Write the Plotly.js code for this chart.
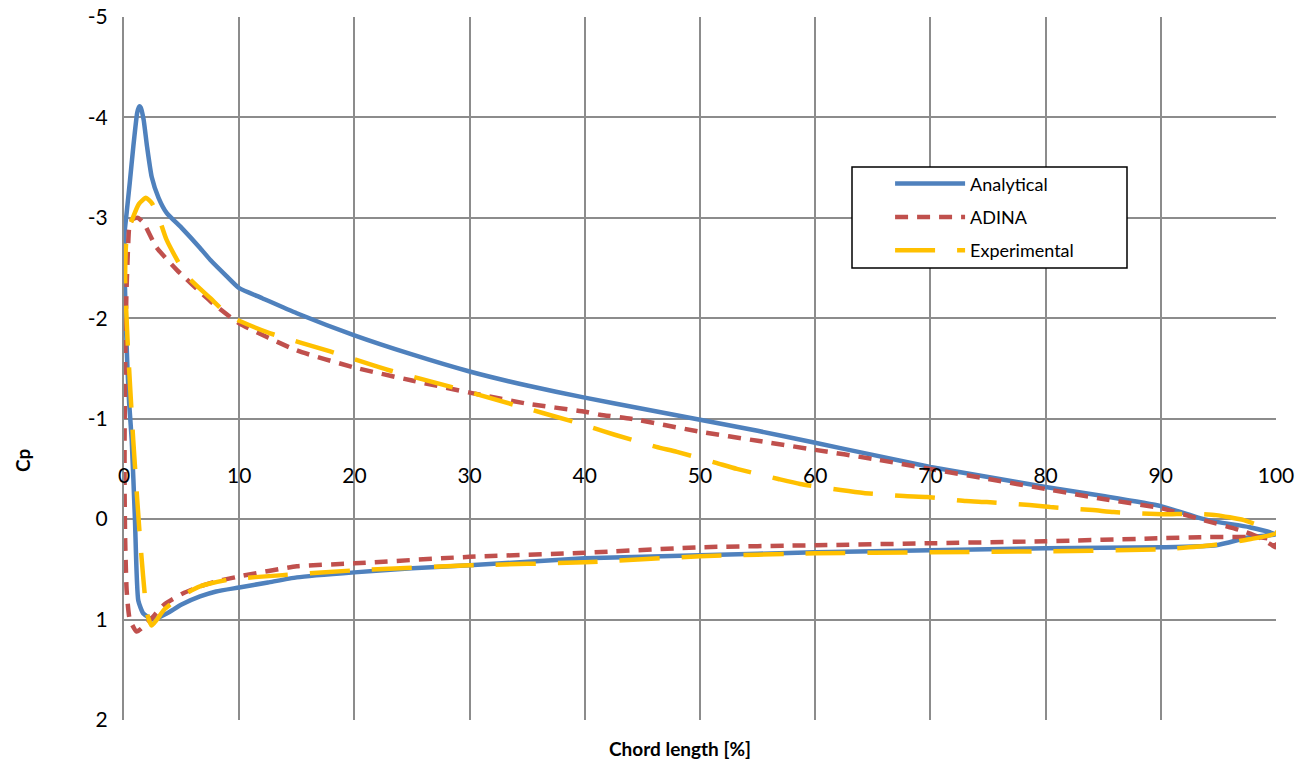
<!DOCTYPE html>
<html>
<head>
<meta charset="utf-8">
<script src="https://cdn.plot.ly/plotly-3.0.1.min.js"></script>
<style>html,body{margin:0;padding:0;background:#fff;}#chart{width:1312px;height:770px;}</style>
</head>
<body>
<div id="chart"></div>
<script>
// Analytical: upper surface (TE -> LE), around nose, lower surface (LE -> TE)
const analyticalX = [100, 97.7, 95, 93.4, 90, 85, 80, 75, 70, 65, 60, 55, 50, 45, 40, 35, 30, 25, 20, 15, 12, 10, 8.9, 7.5, 6.6, 5, 3.7, 3, 2.4, 2, 1.7, 1.45, 1.33, 1.15, 0.81, 0.5, 0.23, 0.05,
  0.05, 0.15, 0.3, 0.45, 0.67, 0.95, 1.24, 1.68, 2.55, 3.7, 5, 6.6, 8, 10, 12.5, 15, 20, 25, 30, 40, 50, 60, 70, 80, 90, 94.8, 97.7, 100];
const analyticalCp = [0.15, 0.08, 0.03, -0.01, -0.13, -0.23, -0.32, -0.42, -0.52, -0.64, -0.76, -0.88, -0.99, -1.1, -1.21, -1.33, -1.47, -1.64, -1.83, -2.05, -2.2, -2.3, -2.42, -2.58, -2.7, -2.9, -3.05, -3.2, -3.41, -3.71, -3.98, -4.1, -4.11, -4.05, -3.71, -3.35, -3.05, -2.85,
  -2.5, -2.0, -1.5, -1.15, -0.79, 0.0, 0.81, 0.94, 1.0, 0.94, 0.85, 0.77, 0.72, 0.68, 0.63, 0.58, 0.53, 0.49, 0.46, 0.39, 0.36, 0.33, 0.31, 0.29, 0.28, 0.26, 0.18, 0.15];

// ADINA
const adinaX = [100, 98.5, 96.9, 93.4, 90, 85, 80, 75, 70, 65, 60, 55, 50, 44, 41.3, 40, 35, 30, 25, 20, 15, 10, 7.5, 4.6, 2.8, 1.7, 1.2, 0.8, 0.5, 0.35, 0.2, 0.1, 0.05,
  0.05, 0.1, 0.23, 0.5, 1.1, 1.6, 2.3, 3.5, 5.1, 6.6, 8, 9.2, 10, 15, 20, 30, 40, 50, 60, 70, 80, 90, 93.4, 98.6, 99.6, 100];
const adinaCp = [0.28, 0.18, 0.11, 0.0, -0.11, -0.2, -0.3, -0.4, -0.5, -0.6, -0.69, -0.78, -0.87, -1.0, -1.04, -1.07, -1.15, -1.26, -1.38, -1.51, -1.68, -1.95, -2.17, -2.48, -2.71, -2.95, -3.0, -2.99, -2.95, -2.7, -2.2, -1.5, -0.8,
  -0.3, 0.2, 0.71, 1.0, 1.12, 1.08, 1.0, 0.85, 0.74, 0.67, 0.62, 0.59, 0.57, 0.47, 0.44, 0.375, 0.335, 0.28, 0.26, 0.24, 0.22, 0.19, 0.18, 0.18, 0.2, 0.28];

// Experimental
const experimentalX = [100, 97.2, 94.8, 93.4, 91.4, 89.6, 85.9, 84.1, 80.4, 78.6, 74.9, 73.1, 69.7, 67.7, 64.2, 62.2, 58.7, 56.8, 53.2, 51.4, 48, 46.2, 42.6, 40.7, 39, 33.8, 28.3, 23.1, 17.9, 12.7, 9.2, 7.5, 5.4, 3.7, 3.0, 2.4, 1.9, 1.3, 0.8, 0.23, 0.1,
  0.3, 0.8, 1.4, 2.0, 2.4, 3.5, 4.9, 6.6, 9.2, 13.5, 20, 30, 40, 50, 60, 70, 80, 90, 94.4, 97.7, 100];
const experimentalCp = [0.14, 0.01, -0.04, -0.05, -0.05, -0.05, -0.07, -0.09, -0.12, -0.14, -0.17, -0.18, -0.22, -0.23, -0.26, -0.29, -0.35, -0.4, -0.5, -0.56, -0.67, -0.72, -0.84, -0.91, -0.97, -1.14, -1.32, -1.48, -1.67, -1.85, -2.02, -2.2, -2.43, -2.78, -3.01, -3.15, -3.2, -3.14, -3.01, -2.81, -2.38,
  -1.8, -0.79, 0.21, 0.94, 1.06, 0.9, 0.77, 0.67, 0.6, 0.56, 0.51, 0.46, 0.43, 0.37, 0.34, 0.33, 0.32, 0.30, 0.26, 0.20, 0.14];

const xTicks = [0, 10, 20, 30, 40, 50, 60, 70, 80, 90, 100];
const yTicks = [-5, -4, -3, -2, -1, 0, 1, 2];

const FONT = 'Lato, "Open Sans", "DejaVu Sans", sans-serif';

const traces = [
  {x: analyticalX, y: analyticalCp, name: 'Analytical', mode: 'lines', legendgroup: 'a',
   line: {color: '#4F81BD', width: 4.5, shape: 'spline', smoothing: 0.5}},
  {x: adinaX, y: adinaCp, name: 'ADINA', mode: 'lines', legendgroup: 'b',
   line: {color: '#C0504D', width: 4.5, dash: '13px,9px', shape: 'spline', smoothing: 0.5}},
  {x: experimentalX, y: experimentalCp, name: 'Experimental', mode: 'lines', legendgroup: 'c',
   line: {color: '#FFC000', width: 4.5, dash: '40px,22px', shape: 'spline', smoothing: 0.5}}
];

const layout = {
  width: 1312, height: 770,
  margin: {l: 124, r: 36, t: 17, b: 50},
  paper_bgcolor: '#ffffff', plot_bgcolor: '#ffffff',
  font: {family: FONT, color: '#000000', size: 21},
  showlegend: true,
  legend: {
    x: 0.665, y: 0.789, xanchor: 'left', yanchor: 'top',
    bgcolor: 'rgba(255,255,255,0)', borderwidth: 0,
    font: {family: FONT, size: 18, color: '#000'},
    itemwidth: 70, tracegroupgap: 7, traceorder: 'grouped'
  },
  xaxis: {
    range: [0, 100], tickvals: xTicks, ticktext: xTicks.map(String),
    anchor: 'free', position: (720 - 519) / 703, side: 'top',
    showline: false, zeroline: false, ticks: '', ticklabelstandoff: 32,
    showgrid: true, gridcolor: '#8c8c8c', gridwidth: 2,
    tickfont: {family: FONT, size: 21, color: '#000'}
  },
  yaxis: {
    range: [2, -5], tickvals: yTicks, ticktext: yTicks.map(String),
    showline: true, linecolor: '#8c8c8c', linewidth: 2, zeroline: false,
    ticks: '', ticklabelstandoff: 10,
    showgrid: true, gridcolor: '#8c8c8c', gridwidth: 2,
    tickfont: {family: FONT, size: 21, color: '#000'}
  },
  shapes: [
    {type: 'rect', xref: 'paper', yref: 'paper',
     x0: (852 - 124) / 1152, x1: (1127 - 124) / 1152,
     y0: (720 - 268) / 703, y1: (720 - 167) / 703,
     line: {color: '#000', width: 1.5}, fillcolor: '#ffffff', layer: 'above'}
  ],
  annotations: [
    {text: '<b>Chord length [%]</b>', xref: 'paper', yref: 'paper',
     x: (680 - 124) / 1152, y: (720 - 748) / 703, xanchor: 'center', yanchor: 'middle',
     showarrow: false, font: {family: FONT, size: 19, color: '#000'}},
    {text: '<b>Cp</b>', xref: 'paper', yref: 'paper', textangle: -90,
     x: (22 - 124) / 1152, y: (720 - 460) / 703, xanchor: 'center', yanchor: 'middle',
     showarrow: false, font: {family: FONT, size: 19, color: '#000'}}
  ]
};

Plotly.newPlot('chart', traces, layout, {displayModeBar: false, staticPlot: true});
</script>
</body>
</html>
